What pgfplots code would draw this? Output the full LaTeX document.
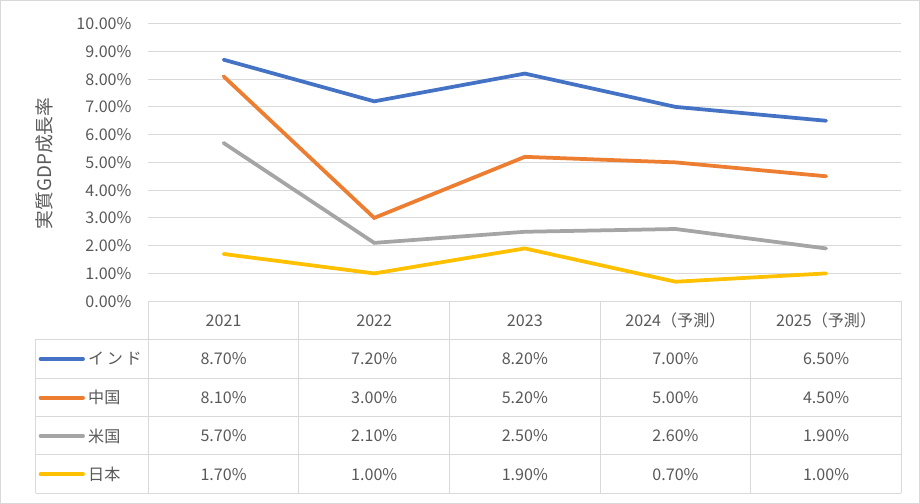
\documentclass[border=0pt]{standalone}
\usepackage{pgfplots}
\pgfplotsset{compat=1.18}
\usepackage{fontspec}
\setmainfont{Noto Sans CJK JP}
\definecolor{txt}{HTML}{595959}
\definecolor{gridc}{HTML}{D9D9D9}
\definecolor{cIndia}{HTML}{4472C4}
\definecolor{cChina}{HTML}{ED7D31}
\definecolor{cUS}{HTML}{A5A5A5}
\definecolor{cJapan}{HTML}{FFC000}
\begin{document}
\begin{tikzpicture}
\begin{axis}[
  scale only axis, width=561.75pt, height=207pt,
  xmin=-0.5, xmax=4.5, ymin=0, ymax=10,
  clip=false,
  axis line style={draw=none},
  xtick=\empty,
  ytick={0,1,2,3,4,5,6,7,8,9,10},
  yticklabels={0.00\%,1.00\%,2.00\%,3.00\%,4.00\%,5.00\%,6.00\%,7.00\%,8.00\%,9.00\%,10.00\%},
  major tick length=0pt,
  ymajorgrids,
  grid style={gridc, line width=0.75pt},
  yticklabel style={font=\fontsize{12}{14}\selectfont, text=txt, xshift=-9pt},
  /pgf/number format/assume math mode=true,
]
% outer border
\draw[gridc, line width=0.75pt] (axis cs:-1.481,10.833) rectangle (axis cs:4.620,-7.283);
% y label
\node[rotate=90, text=txt, font=\fontsize{14}{16}\selectfont] at (axis cs:-1.1876,4.964) {実質GDP成長率};
% series
\addplot[cIndia, line width=2.8pt, line cap=round] coordinates {(0,8.7) (1,7.2) (2,8.2) (3,7.0) (4,6.5)};
\addplot[cChina, line width=2.8pt, line cap=round] coordinates {(0,8.1) (1,3.0) (2,5.2) (3,5.0) (4,4.5)};
\addplot[cUS, line width=2.8pt, line cap=round] coordinates {(0,5.7) (1,2.1) (2,2.5) (3,2.6) (4,1.9)};
\addplot[cJapan, line width=2.8pt, line cap=round] coordinates {(0,1.7) (1,1.0) (2,1.9) (3,0.7) (4,1.0)};
% table grid
\draw[gridc, line width=0.75pt] (axis cs:-0.5,0) -- (axis cs:4.5,0);
\draw[gridc, line width=0.75pt] (axis cs:-1.2477,-1.377) -- (axis cs:4.5,-1.377);
\draw[gridc, line width=0.75pt] (axis cs:-1.2477,-2.790) -- (axis cs:4.5,-2.790);
\draw[gridc, line width=0.75pt] (axis cs:-1.2477,-4.167) -- (axis cs:4.5,-4.167);
\draw[gridc, line width=0.75pt] (axis cs:-1.2477,-5.543) -- (axis cs:4.5,-5.543);
\draw[gridc, line width=0.75pt] (axis cs:-1.2477,-6.920) -- (axis cs:4.5,-6.920);
\draw[gridc, line width=0.75pt] (axis cs:-1.2477,-1.377) -- (axis cs:-1.2477,-6.920);
\draw[gridc, line width=0.75pt] (axis cs:-0.5,0) -- (axis cs:-0.5,-6.920);
\draw[gridc, line width=0.75pt] (axis cs:0.5,0) -- (axis cs:0.5,-6.920);
\draw[gridc, line width=0.75pt] (axis cs:1.5,0) -- (axis cs:1.5,-6.920);
\draw[gridc, line width=0.75pt] (axis cs:2.5,0) -- (axis cs:2.5,-6.920);
\draw[gridc, line width=0.75pt] (axis cs:3.5,0) -- (axis cs:3.5,-6.920);
\draw[gridc, line width=0.75pt] (axis cs:4.5,0) -- (axis cs:4.5,-6.920);
% header
\begin{scope}[every node/.style={text=txt, font=\fontsize{12}{14}\selectfont}]
\node at (axis cs:0,-0.69) {2021};
\node at (axis cs:1,-0.69) {2022};
\node at (axis cs:2,-0.69) {2023};
\node at (axis cs:3,-0.69) {2024（予測）};
\node at (axis cs:4,-0.69) {2025（予測）};
% legend keys
\draw[cIndia, line width=2.8pt, line cap=round] (axis cs:-1.215,-2.083) -- (axis cs:-0.933,-2.083);
\draw[cChina, line width=2.8pt, line cap=round] (axis cs:-1.215,-3.478) -- (axis cs:-0.933,-3.478);
\draw[cUS, line width=2.8pt, line cap=round] (axis cs:-1.215,-4.855) -- (axis cs:-0.933,-4.855);
\draw[cJapan, line width=2.8pt, line cap=round] (axis cs:-1.215,-6.232) -- (axis cs:-0.933,-6.232);
\node[anchor=west, inner sep=0pt] at (axis cs:-0.9005,-2.083) {イ\hspace{2pt}ン\hspace{2pt}ド};
\node[anchor=west, inner sep=0pt] at (axis cs:-0.9005,-3.478) {中国};
\node[anchor=west, inner sep=0pt] at (axis cs:-0.9005,-4.855) {米国};
\node[anchor=west, inner sep=0pt] at (axis cs:-0.9005,-6.232) {日本};
% values
\node at (axis cs:0,-2.083) {8.70\%};
\node at (axis cs:1,-2.083) {7.20\%};
\node at (axis cs:2,-2.083) {8.20\%};
\node at (axis cs:3,-2.083) {7.00\%};
\node at (axis cs:4,-2.083) {6.50\%};
\node at (axis cs:0,-3.478) {8.10\%};
\node at (axis cs:1,-3.478) {3.00\%};
\node at (axis cs:2,-3.478) {5.20\%};
\node at (axis cs:3,-3.478) {5.00\%};
\node at (axis cs:4,-3.478) {4.50\%};
\node at (axis cs:0,-4.855) {5.70\%};
\node at (axis cs:1,-4.855) {2.10\%};
\node at (axis cs:2,-4.855) {2.50\%};
\node at (axis cs:3,-4.855) {2.60\%};
\node at (axis cs:4,-4.855) {1.90\%};
\node at (axis cs:0,-6.232) {1.70\%};
\node at (axis cs:1,-6.232) {1.00\%};
\node at (axis cs:2,-6.232) {1.90\%};
\node at (axis cs:3,-6.232) {0.70\%};
\node at (axis cs:4,-6.232) {1.00\%};
\end{scope}
\end{axis}
\end{tikzpicture}
\end{document}
